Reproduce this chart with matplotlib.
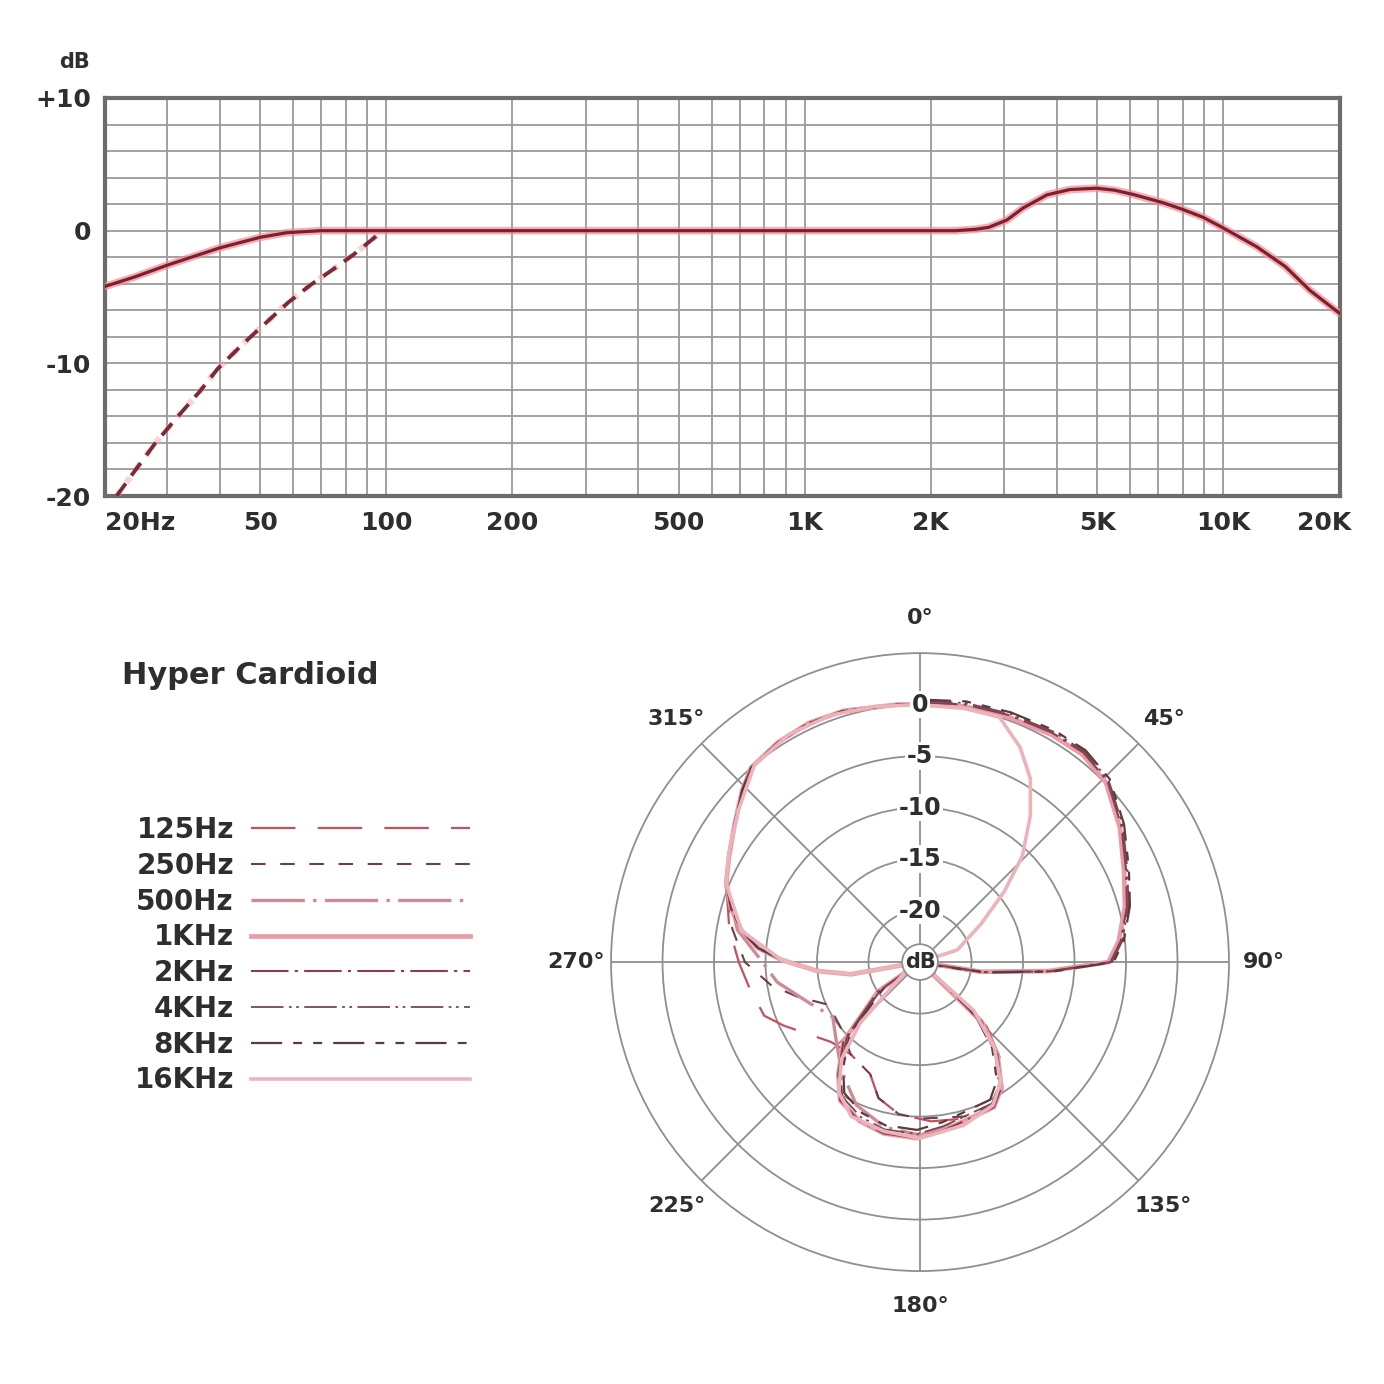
import numpy as np
import matplotlib
matplotlib.use("Agg")
from matplotlib import pyplot as plt
from matplotlib import transforms

# ---- frequency response ----
resp_freq = [21.3, 25, 30, 35, 40, 50, 58, 70, 100, 300, 1000, 2000, 2290, 2550, 2750, 3040,
             3320, 3790, 4300, 4980, 5500, 6140, 7190, 8000, 8960, 10000, 12000, 14060, 16100, 18900]
resp_db = [-4.2, -3.5, -2.6, -1.9, -1.3, -0.5, -0.15, 0, 0, 0, 0, 0, 0, 0.1, 0.25, 0.8,
           1.7, 2.7, 3.1, 3.2, 3.05, 2.7, 2.1, 1.6, 1.0, 0.2, -1.2, -2.7, -4.5, -6.2]
lowcut_freq = [22.7, 24.7, 28.1, 31.8, 35.9, 39.6, 45.6, 51.8, 58.4, 65.9, 74.8, 84.4, 93.1, 98]
lowcut_db = [-20, -18.4, -16.0, -14.0, -12.1, -10.4, -8.5, -6.9, -5.4, -4.1, -2.9, -1.7, -0.6, 0]

freq_ticks = [20, 50, 100, 200, 500, 1000, 2000, 5000, 10000, 20000]
freq_labels = ["20Hz", "50", "100", "200", "500", "1K", "2K", "5K", "10K", "20K"]
db_ticks = [-20, -10, 0, 10]
db_labels = ["-20", "-10", "0", "+10"]

# ---- polar pattern pieces (angle in degrees, level in dB) ----
front_r_ang = [0, 10, 20, 30, 38, 46, 56, 66, 75, 84, 90, 94, 99, 110]
front_r_db = [0, 0.2, 0.3, 0.5, 0.6, 0.1, -1.6, -3.3, -4.4, -5.6, -6.7, -12.5, -19, -25]
rear_ang = [134, 140, 147, 153, 164, 172, 181, 192, 201, 210, 216, 224, 235, 245]
rear_db = [-16.7, -13.3, -10.5, -9.2, -9.0, -8.5, -7.9, -8.0, -8.5, -9.5, -11.5, -14.3, -20, -25]
left_ang = [260, 265, 271, 275, 280, 286, 292, 299, 307, 314, 319, 327, 335, 343, 355, 360]
left_db = [-18.2, -15, -11.5, -9.2, -7.4, -5.9, -4.7, -3.8, -2.5, -1.0, 0, 0.4, 0.6, 0.5, 0.1, 0]

# low frequencies spread wider at the lower left
lf125_ang = [134, 140, 147, 153, 164, 176, 188, 197, 204, 217, 228, 236, 245, 251, 262, 270, 280,
             292, 299, 307, 314, 319, 327, 335, 343, 355, 360]
lf125_db = [-16.0, -13.0, -10.3, -9.2, -9.2, -9.5, -10.1, -11.2, -13.1, -13.8, -13.4, -12.3, -10.4,
            -9.0, -8.2, -7.4, -6.2, -4.7, -3.8, -2.5, -1.0, 0, 0.4, 0.6, 0.5, 0.1, 0]
lf250_ang = [134, 140, 147, 153, 164, 180, 188, 197, 204, 217, 230, 245, 254, 261, 270, 280,
             292, 299, 307, 314, 319, 327, 335, 343, 355, 360]
lf250_db = [-16.5, -13.2, -10.6, -9.4, -9.4, -9.8, -10.1, -11.2, -13.1, -13.8, -15.0, -15.2, -12.7,
            -10.4, -8.0, -6.5, -4.8, -3.8, -2.5, -1.0, 0, 0.4, 0.6, 0.5, 0.1, 0]
lf500_ang = [134, 140, 147, 153, 164, 180, 192, 204, 216, 228, 238, 250, 262, 271, 280,
             292, 299, 307, 314, 319, 327, 335, 343, 355, 360]
lf500_db = [-16.7, -13.3, -10.5, -9.2, -9.0, -8.2, -8.6, -9.8, -12.0, -14.0, -15.0, -13.5, -11.0,
            -9.5, -7.0, -4.7, -3.8, -2.5, -1.0, 0, 0.4, 0.6, 0.5, 0.1, 0]

# 16 kHz: narrow lobe on the right, passing through the centre
hf_ang = [255, 260, 265, 271, 280, 292, 300, 310, 320, 330, 340, 350, 360, 370, 378, 385, 391,
          397, 404, 410, 418, 432, 440, 608, 584.5, 579, 572, 564, 552, 540, 525, 513, 506,
          499, 492, 480, 615]
hf_db = [-25, -18.2, -15, -11.5, -7.4, -4.7, -3.6, -2.0, 0, 0.5, 0.5, 0.2, 0, 0, 0, -2, -4.2,
         -7.2, -10.7, -14.3, -18, -21.2, -25, -24, -16.7, -12.9, -10.1, -8.6, -8.2, -7.9, -8.6,
         -9.4, -11, -14, -18, -25, -25]

pattern_names = ["125Hz", "250Hz", "500Hz", "1KHz", "2KHz", "4KHz", "8KHz", "16KHz"]
pattern_colors = ["#c4515f", "#6e3f46", "#d08a96", "#e79ca7", "#8a3e4a", "#7a4650", "#5c3b40", "#edb3bb"]
pattern_widths = [1.6, 1.5, 2.4, 3.4, 1.5, 1.3, 1.6, 2.6]
pattern_dashes = [(20, 10), (7, 7), (16, 2.5, 1, 2.5), None, (18, 3, 1.5, 3),
                  (18, 3, 1.5, 2.5, 1.5, 3), (14, 5, 4, 5, 4, 5), None]

ring_levels = [-20, -15, -10, -5, 0]
ring_labels = ["-20", "-15", "-10", "-5", "0"]
angle_ticks = [0, 45, 90, 135, 180, 225, 270, 315]
angle_labels = ["0°", "45°", "90°", "135°", "180°", "225°", "270°", "315°"]

TXT = "#2e2e2e"
GRID = "#9a9a9a"

fig = plt.figure(figsize=(13.84, 13.84), dpi=100)
fig.patch.set_facecolor("white")

# ================= top: frequency response =================
ax = fig.add_axes([0.0759, 0.6416, 0.8923, 0.2876])
lo, hi = 21.3, 19000
ax.set_xscale("log")
ax.set_xlim(lo, hi)
ax.set_ylim(-20, 10)
ax.set_xticks(np.clip(freq_ticks, lo, hi))
ax.set_xticklabels(freq_labels, fontsize=18, fontweight="bold", color=TXT)
ax.set_yticks(db_ticks)
ax.set_yticklabels(db_labels, fontsize=18, fontweight="bold", color=TXT)
ax.set_yticks(np.arange(-20, 11, 2), minor=True)
ax.tick_params(which="both", length=0)
ax.tick_params(axis="x", pad=11)
ax.tick_params(axis="y", pad=10)
xt = ax.get_xticklabels()
xt[0].set_ha("left")
xt[-1].set_transform(xt[-1].get_transform() + transforms.ScaledTranslation(-0.16, 0, fig.dpi_scale_trans))
ax.grid(which="both", color=GRID, lw=1.3)
for s in ax.spines.values():
    s.set_color("#6c6c6c")
    s.set_linewidth(3)
ax.text(-0.025, 1.09, "dB", transform=ax.transAxes, fontsize=15, fontweight="bold",
        color=TXT, ha="center", va="center")

ax.plot(resp_freq, resp_db, color="#f28c97", lw=5.5, alpha=0.7, solid_capstyle="round", zorder=3)
ax.plot(resp_freq, resp_db, color="#7d1f2d", lw=2.3, zorder=4)
ax.plot(lowcut_freq, lowcut_db, color="#f4a7ae", lw=4.5, alpha=0.5, ls=":", zorder=3)
ax.plot(lowcut_freq, lowcut_db, color="#7d2a36", lw=2.8, dashes=(4, 2.5), zorder=4)

# ================= bottom: polar pattern =================
fig.text(122 / 1384, 1 - 675 / 1384, "Hyper Cardioid", fontsize=22, fontweight="bold",
         color=TXT, ha="left", va="center")

pax = fig.add_axes([0.4415, 0.0816, 0.4465, 0.4465], projection="polar")
pax.set_theta_zero_location("N")
pax.set_theta_direction(-1)
pax.set_ylim(-25, 5)
pax.set_rgrids(ring_levels, labels=[""] * len(ring_levels))
pax.set_thetagrids(angle_ticks, labels=angle_labels, fontsize=16, fontweight="bold", color=TXT)
pax.tick_params(axis="x", pad=15)
pax.grid(color="#8f8f8f", lw=1.3)
pax.spines["polar"].set_color("#8f8f8f")
pax.spines["polar"].set_linewidth(1.3)

series_ang = [
    front_r_ang + lf125_ang,
    front_r_ang + lf250_ang,
    front_r_ang + lf500_ang,
    front_r_ang + rear_ang + left_ang,
    front_r_ang + rear_ang + left_ang,
    front_r_ang + rear_ang + left_ang,
    front_r_ang + rear_ang + left_ang,
    hf_ang,
]
series_db = [
    front_r_db + lf125_db,
    front_r_db + lf250_db,
    front_r_db + lf500_db,
    front_r_db + rear_db + left_db,
    [v + 0.2 for v in front_r_db] + rear_db + left_db,
    [v + 0.35 for v in front_r_db] + [v - 0.4 for v in rear_db] + left_db,
    [v + 0.5 for v in front_r_db] + [v - 0.8 for v in rear_db] + left_db,
    hf_db,
]

handles = []
for name, a, d, c, w, ds in zip(pattern_names, series_ang, series_db, pattern_colors,
                                pattern_widths, pattern_dashes):
    kw = {} if ds is None else {"dashes": ds}
    ln, = pax.plot(np.deg2rad(a), d, color=c, lw=w, label=name, **kw)
    handles.append(ln)

for lev, lab in zip(ring_levels, ring_labels):
    pax.text(0, lev, lab, fontsize=17, fontweight="bold", color=TXT, ha="center", va="center",
             bbox=dict(boxstyle="square,pad=0.08", fc="white", ec="none"), zorder=6)
pax.text(0, -25, "dB", fontsize=15, fontweight="bold", color=TXT, ha="center", va="center",
         bbox=dict(boxstyle="circle,pad=0.12", fc="white", ec="#8f8f8f", lw=1.3), zorder=6)

fig.legend(handles=handles, loc="upper right", bbox_to_anchor=(470 / 1384, 1 - 816 / 1384),
           markerfirst=False, frameon=False, prop={"size": 20, "weight": "bold"},
           labelcolor=TXT, handlelength=7.9, handletextpad=0.6, labelspacing=0.28,
           borderpad=0, borderaxespad=0)

fig.savefig("out.png", dpi=100, facecolor="white")
